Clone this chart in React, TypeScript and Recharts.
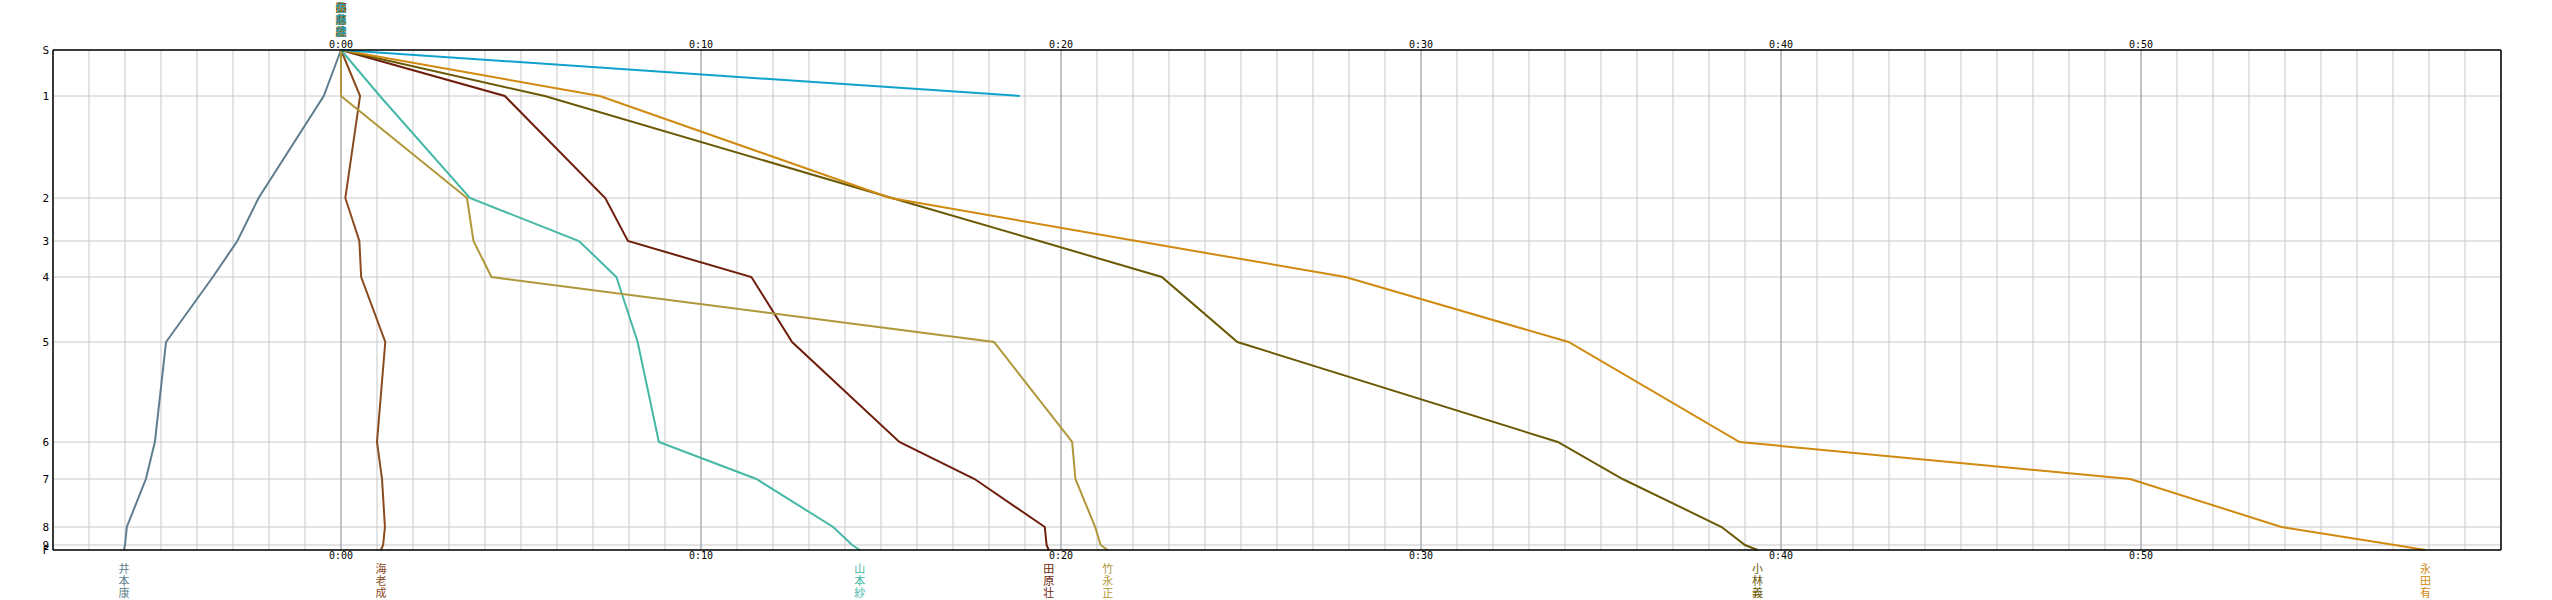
import { LineChart, Line, XAxis, YAxis, CartesianGrid, ReferenceLine, LabelList } from 'recharts';

// controls (S .. F) and their cumulative position along the course
const controlLabels = ['S', '1', '2', '3', '4', '5', '6', '7', '8', '9', 'F'];
const controlDist = [0, 46, 148, 191, 227, 292, 392, 429, 477, 495, 500];

// time axis, minutes behind the reference time
const majorMinutes = [0, 10, 20, 30, 40, 50];
const majorLabels = ['0:00', '0:10', '0:20', '0:30', '0:40', '0:50'];
const gridMinutes = Array.from({ length: 69 }, (_, i) => i - 8);

// minutes behind at each control
const imotoLag = [0, -0.48, -2.29, -2.88, -3.56, -4.86, -5.17, -5.42, -5.95, -6.0, -6.03];
const ebinaLag = [0, 0.53, 0.12, 0.51, 0.56, 1.23, 1.0, 1.14, 1.22, 1.17, 1.11];
const yamamotoLag = [0, 1.08, 3.58, 6.61, 7.65, 8.24, 8.83, 11.54, 13.67, 14.2, 14.41];
const taharaLag = [0, 4.55, 7.34, 7.97, 11.4, 12.53, 15.51, 17.6, 19.55, 19.6, 19.66];
const takenagaLag = [0, 0, 3.5, 3.68, 4.18, 18.14, 20.31, 20.4, 20.95, 21.1, 21.3];
const kobayashiLag = [0, 5.66, 15.3, 19.4, 22.8, 24.9, 33.8, 35.6, 38.35, 39.0, 39.35];
const nagataLag = [0, 7.19, 15.26, 22.1, 27.9, 34.1, 38.85, 49.7, 53.9, 57.05, 57.9];
const satoLag = [0, 18.86];

const runners = [
  { name: '井本康', color: '#5e7e8e', lag: imotoLag },
  { name: '海老成', color: '#8a4b1e', lag: ebinaLag },
  { name: '山本紗', color: '#45b8a6', lag: yamamotoLag },
  { name: '田原壮', color: '#6e1e0a', lag: taharaLag },
  { name: '竹永正', color: '#b0983a', lag: takenagaLag },
  { name: '小林義', color: '#6b5a05', lag: kobayashiLag },
  { name: '永田有', color: '#d08a10', lag: nagataLag },
  { name: '佐藤健', color: '#10a2cc', lag: satoLag },
];

const NUM_FONT = '"DejaVu Sans Mono", monospace';
const NAME_FONT = '"Noto Sans CJK JP", sans-serif';

const toRows = (lag: number[]) => lag.map((t, i) => ({ t, d: controlDist[i] }));

const fmtTime = (v: number) => {
  const i = majorMinutes.indexOf(v);
  return i >= 0 ? majorLabels[i] : '';
};
const fmtControl = (v: number) => {
  const i = controlDist.indexOf(v);
  return i >= 0 ? controlLabels[i] : '';
};

function NameTag({ x, y, name, color, first }: any) {
  return (
    <text fill={color} fontSize={11} fontFamily={NAME_FONT} textAnchor="middle">
      {name.split('').map((ch: string, k: number) => (
        <tspan key={k} x={x} y={y + first + k * 12}>
          {ch}
        </tspan>
      ))}
    </text>
  );
}

const tickStyle = { fontSize: 10, fill: '#000', fontFamily: NUM_FONT };

export default function App() {
  return (
    <div style={{ position: 'absolute', left: 0, top: 0, background: '#fff' }}>
      <LineChart width={2552} height={600} margin={{ top: 30, right: 0, bottom: 30, left: 0 }}>
        <CartesianGrid xAxisId="b" yAxisId="l" stroke="#c8c8c8" strokeWidth={1} />
        <XAxis
          xAxisId="b"
          orientation="bottom"
          type="number"
          dataKey="t"
          domain={[-8, 60]}
          ticks={gridMinutes}
          interval={0}
          tickFormatter={fmtTime}
          height={20}
          tickSize={0}
          tickMargin={2}
          axisLine={{ stroke: '#000', strokeWidth: 1.5 }}
          tick={tickStyle}
          allowDataOverflow
        />
        <XAxis
          xAxisId="t"
          orientation="top"
          type="number"
          dataKey="t"
          domain={[-8, 60]}
          ticks={gridMinutes}
          interval={0}
          tickFormatter={fmtTime}
          height={20}
          tickSize={0}
          tickMargin={2}
          axisLine={{ stroke: '#000', strokeWidth: 1.5 }}
          tick={tickStyle}
          allowDataOverflow
        />
        <YAxis
          yAxisId="l"
          orientation="left"
          type="number"
          dataKey="d"
          domain={[0, 500]}
          reversed
          ticks={controlDist}
          interval={0}
          tickFormatter={fmtControl}
          width={53}
          tickSize={0}
          tickMargin={4}
          axisLine={{ stroke: '#000', strokeWidth: 1.5 }}
          tick={{ ...tickStyle, fontSize: 11 }}
        />
        <YAxis
          yAxisId="r"
          orientation="right"
          type="number"
          dataKey="d"
          domain={[0, 500]}
          reversed
          ticks={controlDist}
          interval={0}
          tickFormatter={fmtControl}
          width={51}
          tickSize={0}
          tickMargin={4}
          axisLine={{ stroke: '#000', strokeWidth: 1.5 }}
          tick={{ ...tickStyle, fontSize: 11 }}
        />
        {majorMinutes.map((m) => (
          <ReferenceLine key={m} x={m} xAxisId="b" yAxisId="l" stroke="#a0a0a0" strokeWidth={1} />
        ))}
        {runners.map((r) => {
          const last = r.lag.length - 1;
          const finished = r.lag.length === controlDist.length;
          return (
            <Line
              key={r.name}
              data={toRows(r.lag)}
              dataKey="d"
              xAxisId="b"
              yAxisId="l"
              type="linear"
              stroke={r.color}
              strokeWidth={2}
              dot={false}
              activeDot={false}
              isAnimationActive={false}
            >
              <LabelList
                dataKey="d"
                content={(p: any) => {
                  if (p.index === 0)
                    return <NameTag x={p.x} y={p.y} name={r.name} color={r.color} first={-38} />;
                  if (finished && p.index === last)
                    return <NameTag x={p.x} y={p.y} name={r.name} color={r.color} first={23} />;
                  return null;
                }}
              />
            </Line>
          );
        })}
      </LineChart>
    </div>
  );
}
